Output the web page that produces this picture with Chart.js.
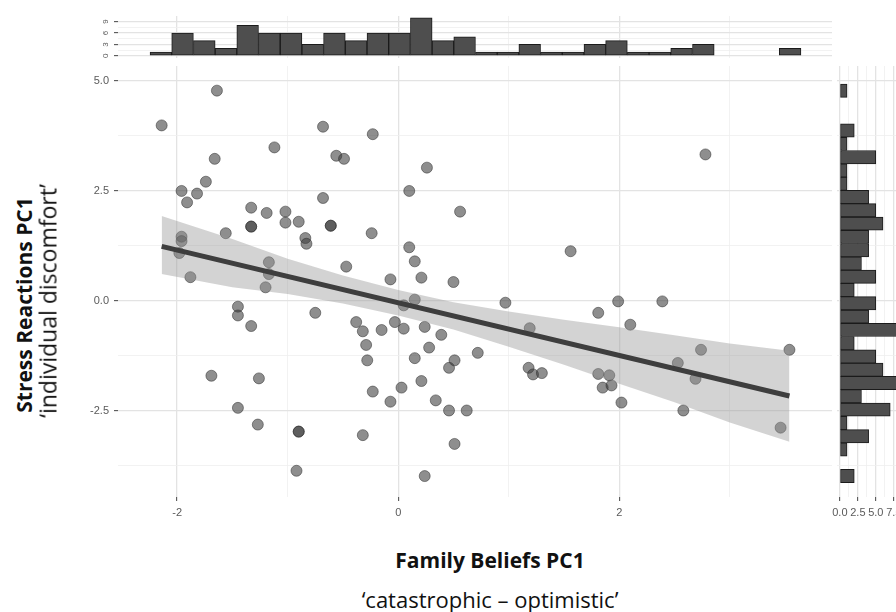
<!DOCTYPE html>
<html>
<head>
<meta charset="utf-8">
<script src="https://cdn.jsdelivr.net/npm/chart.js@4.4.1/dist/chart.umd.min.js"></script>
<style>
  html, body { margin: 0; padding: 0; background: #fff; overflow: hidden; }
  #wrap { position: relative; width: 896px; height: 612px; overflow: hidden; font-family: 'Open Sans', sans-serif; color: #111; }
  canvas { position: absolute; }
  #c-main  { left: 60px;  top: 66px; }
  #c-top   { left: 88px;  top: 16px; }
  #c-right { left: 827px; top: 66px; }
  .t  { position: absolute; white-space: nowrap; line-height: 1; transform: translate(-50%, -50%); }
  .ty { transform: translate(-50%, -50%) rotate(-90deg); }
  .b  { font-weight: 700; font-size: 21px; }
  .n  { font-weight: 400; font-size: 22px; }
</style>
</head>
<body>
<div id="wrap">
  <canvas id="c-top"   width="744" height="42"></canvas>
  <canvas id="c-main"  width="772" height="460"></canvas>
  <canvas id="c-right" width="74"  height="460"></canvas>
  <div class="t ty b" style="left:24px; top:305px;">Stress Reactions PC1</div>
  <div class="t ty n" style="left:48px; top:301px; font-size:23px;">‘individual discomfort’</div>
  <div class="t b" style="left:490px; top:560px;">Family Beliefs PC1</div>
  <div class="t n" style="left:490px; top:599px;">‘catastrophic – optimistic’</div>
</div>
<script>
// scatter points (Family Beliefs PC1, Stress Reactions PC1)
const pointsX = [
  -2.14, -1.64, -1.66, -1.74, -1.96, -1.82, -1.91, -1.12, -0.68, -0.23,
  -0.56, -0.49,  0.26,  0.10,  0.56, -0.68, -1.33, -1.19, -1.02, -1.02,
  -0.90, -1.33, -1.33, -0.61, -0.61, -1.56, -0.84, -0.83, -0.24, -1.96,
  -1.96, -1.98, -1.88,  0.10,  0.15,  0.21,  0.50, -0.07, -0.47, -1.17,
  -1.17, -1.20,
   0.15,  0.05, -1.45, -1.45, -1.33, -0.75, -0.38, -0.32, -0.15, -0.03,
   0.05,  0.24,  0.39, -0.29, -0.28,  0.15,  0.28,  0.51,  0.46,  0.72,
  -1.69, -1.26, -0.23,  0.03,  0.21, -0.07,  0.34,  0.46,  0.62, -1.45,
  -1.27, -0.90, -0.90, -0.32,  0.51, -0.92,  0.24,
   2.78,  1.56,  0.97,  1.19,  1.81,  1.99,  2.39,  2.10,  1.18,  1.22,
   1.30,  1.81,  1.91,  1.85,  1.93,  2.02,  2.53,  2.74,  2.69,  2.58,
   3.54,  3.46
];
const pointsY = [
   3.98,  4.77,  3.22,  2.70,  2.49,  2.43,  2.23,  3.48,  3.95,  3.78,
   3.29,  3.22,  3.02,  2.49,  2.02,  2.33,  2.11,  1.99,  2.02,  1.77,
   1.79,  1.68,  1.68,  1.70,  1.70,  1.53,  1.42,  1.29,  1.53,  1.45,
   1.35,  1.08,  0.53,  1.21,  0.89,  0.52,  0.42,  0.48,  0.77,  0.87,
   0.60,  0.30,
   0.02, -0.11, -0.14, -0.34, -0.58, -0.28, -0.49, -0.70, -0.67, -0.49,
  -0.64, -0.60, -0.78, -1.01, -1.36, -1.31, -1.07, -1.36, -1.53, -1.19,
  -1.71, -1.77, -2.07, -1.98, -1.83, -2.30, -2.27, -2.50, -2.50, -2.44,
  -2.82, -2.98, -2.98, -3.06, -3.26, -3.87, -3.99,
   3.32,  1.12, -0.05, -0.63, -0.28, -0.02, -0.02, -0.55, -1.53, -1.68,
  -1.65, -1.67, -1.70, -1.98, -1.93, -2.32, -1.42, -1.12, -1.78, -2.50,
  -1.12, -2.89
];

// linear fit and its confidence band
const fitX = [-2.14, 3.54];
const fitY = [1.23, -2.17];
const bandX     = [-2.14, -1.5, -1.0, -0.5,  0.0,   0.5,   1.0,   1.5,   2.0,   2.5,   3.0,   3.54];
const bandUpper = [ 1.92,  1.40, 0.95, 0.57,  0.24, -0.04, -0.25, -0.44, -0.61, -0.79, -0.98, -1.14];
const bandLower = [ 0.60,  0.30, 0.15,-0.07, -0.34, -0.66, -1.05, -1.46, -1.89, -2.31, -2.77, -3.21];

// marginal histogram of x (top)
const topBins = [
  -2.147, -1.951, -1.754, -1.558, -1.362, -1.166, -0.969, -0.773, -0.577, -0.380,
  -0.184,  0.012,  0.209,  0.405,  0.601,  0.798,  0.994,  1.190,  1.386,  1.583,
   1.779,  1.975,  2.172,  2.368,  2.564,  2.761,  2.957,  3.153,  3.350,  3.546
];
const topCounts = [1, 6, 4, 2, 8, 6, 6, 3, 6, 4, 6, 6, 10, 4, 5, 1, 1, 3, 1, 1, 3, 4, 1, 1, 2, 3, 0, 0, 0, 2];

// marginal histogram of y (right)
const rightBins = [
  -3.990, -3.688, -3.386, -3.084, -2.782, -2.480, -2.178, -1.876, -1.574, -1.272,
  -0.970, -0.668, -0.366, -0.064,  0.238,  0.540,  0.842,  1.144,  1.446,  1.748,
   2.050,  2.352,  2.654,  2.956,  3.258,  3.560,  3.862,  4.164,  4.466,  4.768
];
const rightCounts = [2, 0, 1, 4, 1, 7, 3, 8, 6, 5, 2, 8, 4, 5, 2, 5, 3, 4, 4, 6, 5, 4, 1, 1, 5, 1, 2, 0, 0, 1];

// ticks
const xTicks       = [-2, -1, 0, 1, 2, 3];
const xTickLabels  = ['-2', '', '0', '', '2', ''];
const yTicks       = [-3.75, -2.5, -1.25, 0, 1.25, 2.5, 3.75, 5];
const yTickLabels  = ['', '-2.5', '', '0.0', '', '2.5', '', '5.0'];
const topTicks      = [0, 1.5, 3, 4.5, 6, 7.5, 9];
const topTickLabels = ['0', '', '3', '', '6', '', '9'];
const rightTicks      = [0, 1.25, 2.5, 3.75, 5, 6.25, 7.5];
const rightTickLabels = ['0.0', '', '2.5', '', '5.0', '', '7.5'];

const X_MIN = -2.535, X_MAX = 3.925;
const Y_MIN = -4.466, Y_MAX = 5.33;

const TICK_FONT = { family: 'Liberation Sans', size: 11 };
const TICK_COLOR = '#5a5a5a';

function axis(ticks, labels, fixed) {
  const major = v => labels[ticks.indexOf(v)] !== '';
  return {
    type: 'linear',
    offset: false,
    afterBuildTicks: s => { s.ticks = ticks.map(v => ({ value: v })); },
    afterFit: s => {
      if (fixed.width !== undefined) s.width = fixed.width;
      if (fixed.height !== undefined) s.height = fixed.height;
      s.paddingTop = 0; s.paddingBottom = 0; s.paddingLeft = 0; s.paddingRight = 0;
    },
    border: { display: false },
    grid: {
      offset: false,
      color: c => major(c.tick.value) ? '#e3e3e3' : '#efefef',
      lineWidth: c => major(c.tick.value) ? 1.3 : 0.8,
      tickColor: c => (major(c.tick.value) && fixed.marks) ? '#444' : 'rgba(0,0,0,0)',
      tickWidth: 1,
      tickLength: 4,
      drawTicks: !!fixed.marks,
    },
    ticks: {
      display: !!fixed.marks,
      autoSkip: false,
      maxRotation: 0,
      minRotation: 0,
      color: TICK_COLOR,
      font: TICK_FONT,
      padding: 5,
      callback: (v, i) => labels[i],
    },
  };
}

const baseOpts = {
  responsive: false,
  animation: false,
  events: [],
  layout: { padding: 0, autoPadding: false },
  plugins: { legend: { display: false }, tooltip: { enabled: false } },
};

// main scatter
const pts = pointsX.map((x, i) => ({ x, y: pointsY[i] }));
const fitLine = fitX.map((x, i) => ({ x, y: fitY[i] }));
const bandUp = bandX.map((x, i) => ({ x, y: bandUpper[i] }));
const bandLo = bandX.map((x, i) => ({ x, y: bandLower[i] }));

const mx = axis(xTicks, xTickLabels, { height: 29, marks: true });
mx.min = X_MIN; mx.max = X_MAX;
const my = axis(yTicks, yTickLabels, { width: 58, marks: true });
my.min = Y_MIN; my.max = Y_MAX;

new Chart(document.getElementById('c-main'), {
  type: 'scatter',
  data: {
    datasets: [
      { type: 'line', data: fitLine, borderColor: '#3e3e3e', borderWidth: 5, pointRadius: 0, borderCapStyle: 'butt', fill: false },
      { type: 'line', data: bandUp, borderColor: 'rgba(0,0,0,0)', borderWidth: 0, pointRadius: 0, fill: '+1', backgroundColor: 'rgba(150,150,150,0.42)' },
      { type: 'line', data: bandLo, borderColor: 'rgba(0,0,0,0)', borderWidth: 0, pointRadius: 0, fill: false },
      { data: pts, pointRadius: 5.5, backgroundColor: 'rgba(60,60,60,0.58)', borderColor: 'rgba(40,40,40,0.5)', borderWidth: 1 },
    ],
  },
  options: { ...baseOpts, scales: { x: mx, y: my } },
});

// top histogram
const tx = axis(xTicks, xTickLabels, { height: 0, marks: false });
tx.min = X_MIN; tx.max = X_MAX;
const ty = axis(topTicks, topTickLabels, { width: 30, marks: true });
ty.min = -0.55; ty.max = 10.45;
ty.ticks.font = { family: 'Liberation Sans', size: 8 };
ty.ticks.minRotation = 90; ty.ticks.maxRotation = 90;
ty.ticks.crossAlign = 'center';
ty.ticks.padding = 6;

new Chart(document.getElementById('c-top'), {
  type: 'bar',
  data: {
    datasets: [{
      data: topBins.map((x, i) => ({ x, y: topCounts[i] })),
      backgroundColor: '#4e4e4e', borderColor: '#1b1b1b', borderWidth: 1, borderSkipped: false,
      barPercentage: 1, categoryPercentage: 1,
    }],
  },
  options: { ...baseOpts, scales: { x: tx, y: ty } },
});

// right histogram
const rx = axis(rightTicks, rightTickLabels, { height: 29, marks: true });
rx.min = -0.4; rx.max = 8.5;
const ry = axis(yTicks, yTickLabels, { width: 10, marks: false });
ry.min = Y_MIN; ry.max = Y_MAX;

new Chart(document.getElementById('c-right'), {
  type: 'bar',
  data: {
    datasets: [{
      data: rightBins.map((y, i) => ({ x: rightCounts[i], y })),
      backgroundColor: '#4e4e4e', borderColor: '#1b1b1b', borderWidth: 1, borderSkipped: false,
      barPercentage: 1, categoryPercentage: 1,
    }],
  },
  options: { ...baseOpts, indexAxis: 'y', scales: { x: rx, y: ry } },
});
</script>
</body>
</html>
